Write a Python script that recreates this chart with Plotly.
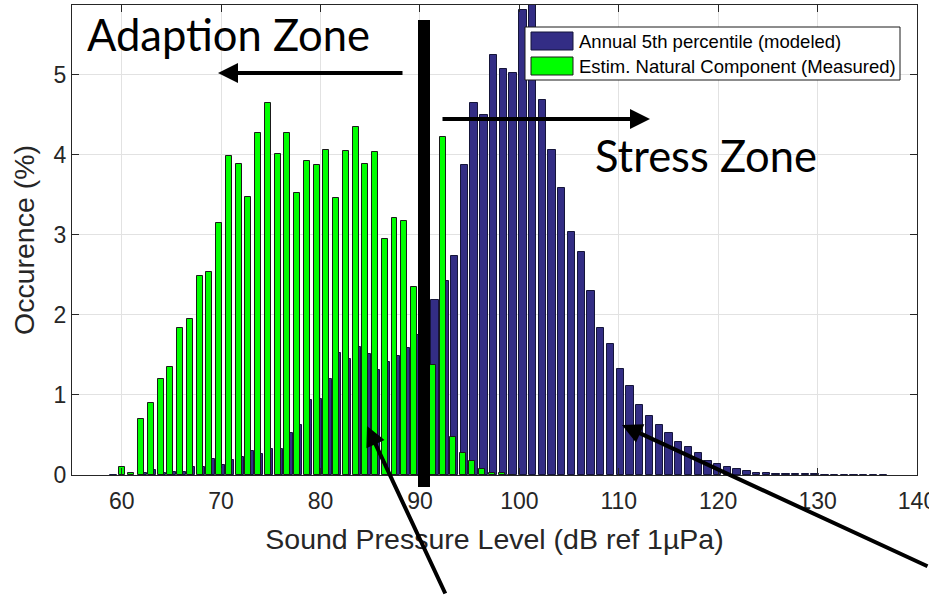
import plotly.graph_objects as go

# ---- data (bin centres in dB, occurrence in %) ----
bin_first_center = 59.02      # first histogram bin centre (dB)
bin_step = 0.98               # histogram bin width (dB)

natural_measured = [
    0, 0.10, 0.02, 0.70, 0.90, 1.20, 1.35, 1.84, 1.95, 2.49,
    2.53, 3.15, 3.98, 3.88, 3.47, 4.27, 4.65, 4.01, 4.27, 3.52,
    3.92, 3.87, 4.06, 3.46, 4.05, 4.35, 3.88, 4.03, 2.95, 3.21,
    3.17, 2.35, 1.90, 1.37, 4.22, 0.47, 0.28, 0.18, 0.075, 0.02,
    0.02, 0.005, 0, 0, 0, 0, 0, 0, 0, 0,
    0, 0, 0, 0, 0, 0, 0, 0, 0, 0,
    0, 0, 0, 0, 0, 0, 0, 0, 0, 0,
    0, 0, 0, 0, 0, 0, 0, 0, 0, 0,
]

annual_5th_modeled = [
    0.005, 0, 0, 0.03, 0.06, 0.03, 0.04, 0.04, 0.10, 0.10,
    0.20, 0.13, 0.19, 0.23, 0.30, 0.26, 0.33, 0.33, 0.53, 0.625,
    0.94, 0.95, 1.20, 1.52, 1.45, 1.60, 1.51, 1.31, 1.41, 1.49,
    1.58, 1.75, 2.00, 2.19, 2.42, 2.73, 3.87, 4.65, 4.50, 5.24,
    5.07, 5.02, 5.81, 6.20, 4.68, 4.06, 3.58, 3.03, 2.78, 2.30,
    1.83, 1.63, 1.33, 1.11, 0.875, 0.74, 0.62, 0.52, 0.41, 0.35,
    0.27, 0.18, 0.14, 0.10, 0.08, 0.055, 0.03, 0.02, 0.015, 0.012,
    0.01, 0.01, 0.008, 0.005, 0.005, 0.005, 0.005, 0.005, 0.005, 0.005,
]

x_ticks = [60, 70, 80, 90, 100, 110, 120, 130, 140]
y_ticks = [0, 1, 2, 3, 4, 5]
series_names = ["Annual 5th percentile (modeled)", "Estim. Natural Component (Measured)"]
zone_labels = ["Adaption Zone", "Stress Zone"]

centers = [round(bin_first_center + bin_step * i, 3) for i in range(len(annual_5th_modeled))]

BLUE = "#332d85"
GREEN = "#00ff00"
INK = "#262626"
SANS = "Liberation Sans, Arial, sans-serif"

# ---- figure geometry (pixels) ----
W, H = 929, 595
L, R, T, B = 72, 12, 5, 120
PW, PH = W - L - R, H - T - B


def px(xp):
    return (xp - L) / PW


def py(yp):
    return (H - B - yp) / PH


fig = go.Figure()
fig.add_trace(go.Bar(
    x=[c + 0.17 for c in centers],
    y=[v if v > 0 else None for v in annual_5th_modeled],
    width=0.74,
    marker=dict(color=BLUE, line=dict(color="#15153a", width=1)),
    name=series_names[0], showlegend=False,
))
fig.add_trace(go.Bar(
    x=centers,
    y=[v if v > 0 else None for v in natural_measured],
    width=0.6,
    marker=dict(color=GREEN, line=dict(color="#1a1a1a", width=1)),
    name=series_names[1], showlegend=False,
))

axis_common = dict(
    ticks="inside", ticklen=7, tickcolor=INK, tickwidth=1,
    showline=True, linecolor=INK, linewidth=1, mirror="ticks",
    showgrid=True, gridcolor="#e2e2e2", gridwidth=1, zeroline=False,
    ticklabeloverflow="allow", automargin=False,
    tickfont=dict(family=SANS, size=23, color=INK),
)

fig.update_layout(
    width=W, height=H,
    margin=dict(l=L, r=R, t=T, b=B, autoexpand=False),
    paper_bgcolor="white", plot_bgcolor="white",
    barmode="overlay", bargap=0,
    xaxis=dict(range=[55, 140], tickvals=x_ticks, ticklabelstandoff=5,
               title=dict(text="Sound Pressure Level (dB ref 1\u00b5Pa)", standoff=16,
                          font=dict(family=SANS, size=28.5, color=INK)),
               **axis_common),
    yaxis=dict(range=[0, 5.87], tickvals=y_ticks,
               title=dict(text="Occurence (%)", standoff=10,
                          font=dict(family=SANS, size=28.5, color=INK)),
               **axis_common),
)

shapes = []
# legend box
shapes.append(dict(type="rect", xref="paper", yref="paper",
                   x0=px(525), x1=px(900), y0=py(80), y1=py(27),
                   fillcolor="white", line=dict(color="#1a1a1a", width=1), layer="above"))
shapes.append(dict(type="rect", xref="paper", yref="paper",
                   x0=px(531), x1=px(573), y0=py(50), y1=py(32),
                   fillcolor=BLUE, line=dict(color="#15153a", width=1), layer="above"))
shapes.append(dict(type="rect", xref="paper", yref="paper",
                   x0=px(531), x1=px(573), y0=py(75), y1=py(57),
                   fillcolor=GREEN, line=dict(color="#1a1a1a", width=1), layer="above"))
# thick vertical divider
shapes.append(dict(type="line", xref="paper", yref="paper",
                   x0=px(424), x1=px(424), y0=py(487), y1=py(20),
                   line=dict(color="black", width=12), layer="above"))
fig.update_layout(shapes=shapes)

annotations = [
    dict(x=px(577), y=py(41), xref="paper", yref="paper", text=series_names[0],
         showarrow=False, xanchor="left", yanchor="middle",
         font=dict(family=SANS, size=18.5, color="black")),
    dict(x=px(577), y=py(66), xref="paper", yref="paper", text=series_names[1],
         showarrow=False, xanchor="left", yanchor="middle",
         font=dict(family=SANS, size=18.5, color="black")),
    dict(x=px(85), y=py(34), xref="paper", yref="paper", text=zone_labels[0],
         showarrow=False, xanchor="left", yanchor="middle",
         font=dict(family="Lato, Open Sans, sans-serif", size=43.5, color="black")),
    dict(x=px(593), y=py(155), xref="paper", yref="paper", text=zone_labels[1],
         showarrow=False, xanchor="left", yanchor="middle",
         font=dict(family="Lato, Open Sans, sans-serif", size=43.5, color="black")),
]

arrows = [
    ((218, 73), (404, 73)),
    ((650, 119), (441, 119)),
    ((367, 426), (446, 598)),
    ((622, 425), (936, 567)),
]
for (hx, hy), (tx, ty) in arrows:
    annotations.append(dict(
        x=px(hx), y=py(hy), xref="paper", yref="paper", text="",
        showarrow=True, ax=tx - hx, ay=ty - hy, axref="pixel", ayref="pixel",
        arrowhead=2, arrowsize=1.0, arrowwidth=4, arrowcolor="black", standoff=0,
    ))
fig.update_layout(annotations=annotations)

fig.write_html("out.html")
